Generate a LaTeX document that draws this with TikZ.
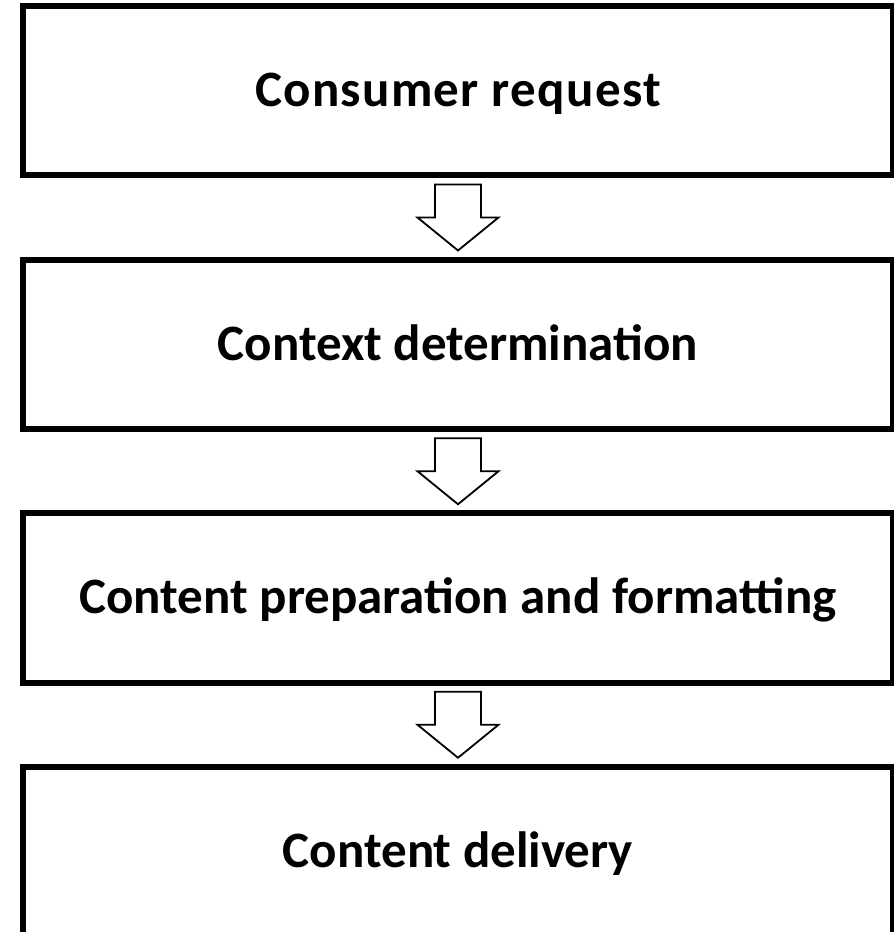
\documentclass[tikz,border=0pt]{standalone}
\usepackage{fontspec}
\setmainfont{Carlito}
\usetikzlibrary{calc}

\tikzset{
  stepbox/.style={draw=black, fill=white, line width=6pt, rectangle,
    minimum width=870pt, minimum height=169.5pt, inner sep=0pt,
    text height=38pt, text depth=7pt,
    font=\fontsize{51}{60}\selectfont\bfseries},
  blockarrow/.style={draw=black, fill=white, line width=1.8pt, line join=miter}
}

\begin{document}
\begin{tikzpicture}[x=1pt, y=1pt]
  \useasboundingbox (0,0) rectangle (894,-932);

  % process steps, top to bottom
  \node[stepbox] (b1) at (458,-90.5)
    {\addfontfeature{LetterSpace=2.6}Consumer request};
  \node[stepbox] (b2) at (458,-344.5) {Context determination};
  \node[stepbox] (b3) at (458,-598)   {Content preparation and formatting};
  \node[stepbox] (b4) at (458,-851.5) {Content delivery};

  % hollow block arrows between consecutive steps
  \foreach \a/\b in {b1/b2, b2/b3, b3/b4} {
    \draw[blockarrow]
      let \p1 = ($(\a.south)!0.5!(\b.north)$) in
      (\x1-23, \y1+33) -- (\x1+23, \y1+33) -- (\x1+23, \y1) --
      (\x1+40.5, \y1) -- (\x1, \y1-33) -- (\x1-40.5, \y1) --
      (\x1-23, \y1) -- cycle;
  }
\end{tikzpicture}
\end{document}
